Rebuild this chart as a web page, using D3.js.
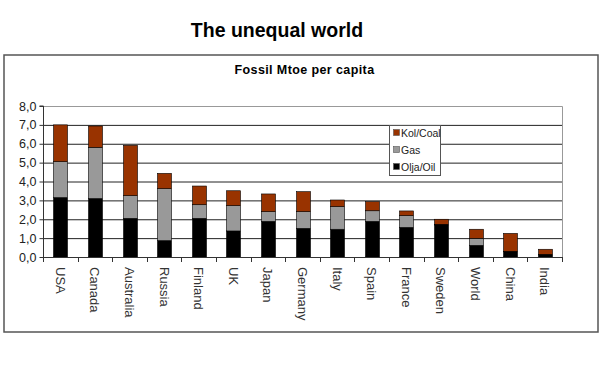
<!DOCTYPE html>
<html><head><meta charset="utf-8">
<script src="https://cdn.jsdelivr.net/npm/d3@7"></script>
<style>body{margin:0;background:#fff}svg{display:block}text{font-family:"Liberation Sans",Arial,sans-serif}</style>
</head><body>
<svg id="c" width="605" height="368"></svg>
<script>
const categories=["USA","Canada","Australia","Russia","Finland","UK","Japan","Germany","Italy","Spain","France","Sweden","World","China","India"];
const oil=[3.15,3.10,2.05,0.87,2.05,1.38,1.89,1.52,1.47,1.89,1.57,1.70,0.62,0.28,0.11];
const gas=[1.90,2.71,1.20,2.75,0.72,1.34,0.51,0.88,1.20,0.56,0.62,0.03,0.37,0.02,0.03];
const coal=[1.95,1.13,2.67,0.81,0.99,0.79,0.94,1.06,0.35,0.48,0.25,0.27,0.48,0.95,0.27];
const seriesNames=["Olja/Oil","Gas","Kol/Coal"];
const yTicks=[0,1,2,3,4,5,6,7,8];

const svg=d3.select("#c");
const colors={"Olja/Oil":"#000000","Gas":"#999999","Kol/Coal":"#993300"};
svg.append("text").attr("x",277).attr("y",37).attr("text-anchor","middle").attr("font-size",19.5).attr("font-weight","bold").text("The unequal world");
svg.append("rect").attr("x",4).attr("y",55).attr("width",594).attr("height",277).attr("fill","#fff").attr("stroke","#555").attr("stroke-width",1.5);
const L=43,R=562,T=106,B=257;
svg.append("text").attr("x",(L+R)/2+2).attr("y",74).attr("text-anchor","middle").attr("font-size",12.5).attr("font-weight","bold").attr("letter-spacing",0.4).text("Fossil Mtoe per capita");

const x=d3.scaleBand().domain(categories).range([L,R]).paddingInner(0.6).paddingOuter(0.3);
const y=d3.scaleLinear().domain([0,8]).range([B,T]);
const fmt=d=>d.toFixed(1).replace(".",",");

// grid
svg.append("g").selectAll("line").data(yTicks.filter(d=>d>0&&d<8)).join("line")
 .attr("x1",L).attr("x2",R).attr("y1",d=>y(d)+0.5).attr("y2",d=>y(d)+0.5).attr("stroke","#222").attr("stroke-width",1);
svg.append("path").attr("d",`M${L},${T+0.5}H${R+0.5}V${B}`).attr("fill","none").attr("stroke","#999");

const data=categories.map((c,i)=>({cat:c,"Olja/Oil":oil[i],"Gas":gas[i],"Kol/Coal":coal[i]}));
const stack=d3.stack().keys(seriesNames)(data);
svg.append("g").selectAll("g").data(stack).join("g").attr("fill",s=>colors[s.key])
 .selectAll("rect").data(s=>s).join("rect")
 .attr("x",d=>Math.round(x(d.data.cat))+0.5).attr("width",Math.round(x.bandwidth()))
 .attr("y",d=>y(d[1])).attr("height",d=>y(d[0])-y(d[1]))
 .attr("stroke","#000").attr("stroke-width",0.6);

// y axis
const ya=svg.append("g").attr("transform",`translate(${L+0.5},0)`).call(d3.axisLeft(y).tickValues(yTicks).tickFormat(fmt).tickSize(4).tickPadding(3));
ya.select(".domain").attr("stroke","#333").attr("d",`M-4,${T}H0V${B}`);
ya.selectAll(".tick line").attr("stroke","#333");
ya.selectAll("text").attr("font-size",12.5).attr("fill","#222").attr("font-family","Liberation Sans, Arial, sans-serif");

// x axis
svg.append("line").attr("x1",L).attr("x2",R).attr("y1",B+0.5).attr("y2",B+0.5).attr("stroke","#333");
svg.append("g").selectAll("line").data(d3.range(categories.length+1)).join("line")
 .attr("x1",i=>Math.round(L+i*(R-L)/categories.length)+0.5).attr("x2",i=>Math.round(L+i*(R-L)/categories.length)+0.5)
 .attr("y1",B).attr("y2",B+5).attr("stroke","#333");
svg.append("g").selectAll("text").data(categories).join("text")
 .attr("transform",d=>`translate(${x(d)+x.bandwidth()/2-4.5},${B+10}) rotate(90)`)
 .attr("font-size",13).attr("fill","#333").attr("text-anchor","start").text(d=>d);

// legend
const lg=svg.append("g").attr("transform","translate(389,125)");
lg.append("rect").attr("x",0.5).attr("y",0.5).attr("width",51).attr("height",50).attr("fill","#fff").attr("stroke","#555");
const legOrder=["Kol/Coal","Gas","Olja/Oil"];
legOrder.forEach((k,i)=>{
 lg.append("rect").attr("x",4.5).attr("y",4.5+i*17).attr("width",6).attr("height",6).attr("fill",colors[k]).attr("stroke","#555").attr("stroke-width",0.6);
 lg.append("text").attr("x",12).attr("y",11.5+i*17).attr("font-size",10.5).attr("fill","#222").text(k);
});
</script>
</body></html>
